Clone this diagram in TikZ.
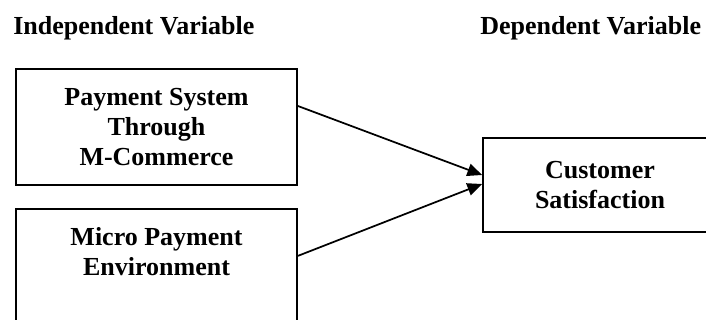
\documentclass[tikz,border=0pt]{standalone}
\usepackage{fontspec}
\setmainfont{Liberation Serif}
\usetikzlibrary{arrows.meta}
\usetikzlibrary{positioning}
\tikzstyle{line}=[-{Triangle[length=11pt,width=9.5pt]}, line width=1.3pt]
\tikzstyle{varbox}=[rectangle, draw, line width=1.4pt, align=center,
		font=\fontsize{19.5}{22.5}\selectfont\bfseries,
		minimum height=87pt]
\tikzstyle{heading}=[inner sep=0pt, anchor=base west,
		font=\fontsize{19.5}{22.5}\selectfont\bfseries]

\begin{document}
\begin{tikzpicture}[x=0.75pt,y=-0.75pt]

    \clip (0,0) rectangle (706,320);

    \node (IndV) [heading] at (13,35) {Independent Variable};
    \node (DepV) [heading] at (480,35) {Dependent Variable};

    \node (PayM) [varbox, minimum width=210.75pt] at (156.5,127) {
      Payment System\\
      Through\\
      M-Commerce};

    \node (MicroP) [varbox, minimum width=210.75pt, minimum height=93pt,
      below=16.5pt of PayM] {
      Micro Payment\\
      Environment\\
      \strut};

    \node (CustS) [varbox, minimum width=175.5pt, minimum height=70.5pt]
      at (600,185) {
      Customer\\
      Satisfaction};

    \path ([yshift=15.75pt]PayM.east)
      edge [line] ([yshift=7.5pt]CustS.west);
    \path ([yshift=11.25pt]MicroP.east)
      edge [line] ([yshift=0.75pt]CustS.west);

\end{tikzpicture}
\end{document}
